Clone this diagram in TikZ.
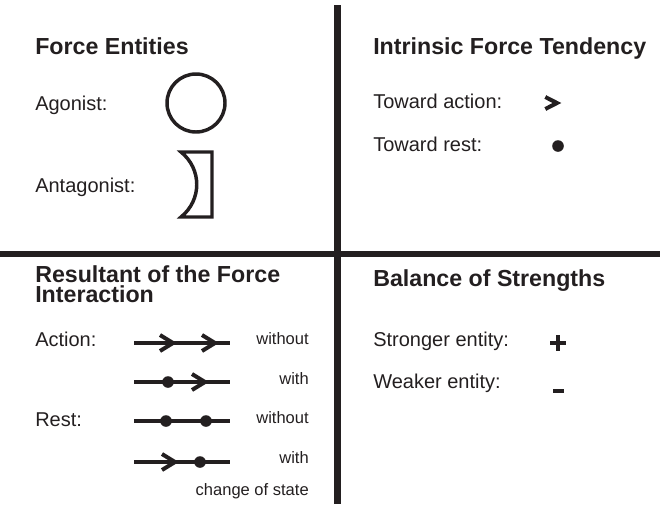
\documentclass[tikz,border=0pt]{standalone}
\usepackage{fontspec}
\setmainfont{Liberation Sans}
\usetikzlibrary{arrows.meta}
\definecolor{ink}{HTML}{231F20}

\begin{document}
\begin{tikzpicture}[
  x=0.75pt, y=-0.75pt, color=ink,
  title/.style={anchor=base west, inner sep=0pt, align=left,
    font=\fontsize{17.4}{15}\selectfont\bfseries},
  lbl/.style={anchor=base west, inner sep=0pt, font=\fontsize{15}{18}\selectfont},
  note/.style={anchor=base east, inner sep=0pt, font=\fontsize{12.4}{15}\selectfont},
  divider/.style={line width=5pt},
  sym/.style={line width=2.6pt, line join=miter},
  rline/.style={line width=3pt},
  chev/.pic={\draw[line width=3pt, miter limit=10] (-13,-8) -- (0,0) -- (-13,8);},
  halt/.pic={\fill (0,0) circle (5.8);}
]
\useasboundingbox (0,0) rectangle (660,504);

% panel dividers
\coordinate (vtop) at (337.5,5);
\coordinate (vbot) at (337.5,504);
\coordinate (hl) at (0,254);
\coordinate (hr) at (660,254);
\draw[divider] (vtop) -- (vbot);
\draw[divider] (hl) -- (hr);

% headings
\node[title] (tEnt) at (35,54) {Force Entities};
\node[title] (tTend) at (373,54) {Intrinsic Force Tendency};
\node[title] (tRes) at (35,302) {Resultant of the Force\\Interaction};
\node[title] (tBal) at (373,286) {Balance of Strengths};

% force entities
\node[lbl] (agon) at (35,110) {Agonist:};
\node[lbl] (antag) at (35,192) {Antagonist:};
\node[draw, circle, sym, minimum size=43.5pt, inner sep=0pt] (agonSym) at (196,103) {};
\draw[sym] (181,152) -- (212,152) -- (212,217) -- (181,217)
  .. controls (202,200) and (202,169) .. (181,152) -- cycle;

% intrinsic tendency
\node[lbl] (toAct) at (373,108) {Toward action:};
\node[lbl] (toRest) at (373,151) {Toward rest:};
\pic[xscale=0.9, yscale=0.75] at (557,103) {chev};
\pic at (558,146) {halt};

% resultant
\node[lbl] (act) at (35,346) {Action:};
\node[lbl] (rest) at (35,426) {Rest:};
\foreach \y/\n in {343/a, 382/b, 421/c, 462/d} {
  \coordinate (s\n) at (134,\y);
  \coordinate (e\n) at (230,\y);
  \draw[rline] (s\n) -- (e\n);
}
\pic at (173,343) {chev};
\pic at (215,343) {chev};
\pic at (168,382) {halt};
\pic at (205,382) {chev};
\pic at (166,421) {halt};
\pic at (206,421) {halt};
\pic at (175,462) {chev};
\pic at (200,462) {halt};
\node[note] (n1) at (309,344) {without};
\node[note] (n2) at (309,384) {with};
\node[note] (n3) at (309,423) {without};
\node[note] (n4) at (309,463) {with};
\node[note] (n5) at (309,495) {change of state};

% balance of strengths
\node[lbl] (strong) at (373,346) {Stronger entity:};
\node[lbl] (weak) at (373,388) {Weaker entity:};
\draw[line width=2.6pt] (550,343) -- (566,343) (558,335) -- (558,351);
\draw[line width=3pt] (553,391) -- (564,391);
\end{tikzpicture}
\end{document}
